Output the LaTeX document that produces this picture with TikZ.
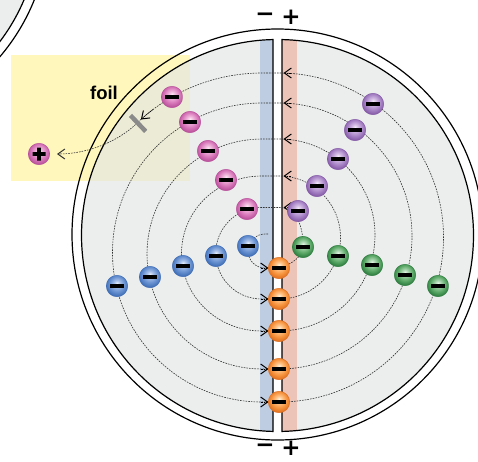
\documentclass[tikz,border=0pt]{standalone}
\usepackage{tikz}
\usepackage{fontspec}
\setmainfont{Liberation Sans}
\newfontfamily\signfont{DejaVu Sans}
\usetikzlibrary{arrows.meta}

% surfaces
\definecolor{deegray}{RGB}{227,229,229}
\definecolor{foilyellow}{RGB}{255,247,187}
\definecolor{negplate}{RGB}{190,205,225}
\definecolor{posplate}{RGB}{236,196,184}
\definecolor{trackcol}{RGB}{50,50,50}
\definecolor{foilbar}{RGB}{138,138,138}

% particle colours: highlight, middle, body, rim
\definecolor{pinkhl}{HTML}{FDE8F4}\definecolor{pinkmd}{HTML}{F0B8DC}
\definecolor{pinkbd}{HTML}{D877BA}\definecolor{pinkrm}{HTML}{B8509A}
\definecolor{bluehl}{HTML}{E6EEFA}\definecolor{bluemd}{HTML}{A8C0E8}
\definecolor{bluebd}{HTML}{6690D0}\definecolor{bluerm}{HTML}{3F6DB5}
\definecolor{orghl}{HTML}{FFF2E0}\definecolor{orgmd}{HTML}{FFC890}
\definecolor{orgbd}{HTML}{F7953F}\definecolor{orgrm}{HTML}{E07020}
\definecolor{grnhl}{HTML}{E4F2E4}\definecolor{grnmd}{HTML}{A8D4AE}
\definecolor{grnbd}{HTML}{5AA866}\definecolor{grnrm}{HTML}{2F7D40}
\definecolor{purhl}{HTML}{F3EBF8}\definecolor{purmd}{HTML}{D3BCE4}
\definecolor{purbd}{HTML}{A884C6}\definecolor{purrm}{HTML}{8459A6}

\newcommand{\makeballshade}[5]{%
  \pgfdeclareradialshading{#1}{\pgfpoint{0bp}{7bp}}{%
    color(0bp)=(#2); color(7bp)=(#3); color(18bp)=(#4);
    color(27bp)=(#5); color(50bp)=(#5)}}
\makeballshade{pinkshade}{pinkhl}{pinkmd}{pinkbd}{pinkrm}
\makeballshade{blueshade}{bluehl}{bluemd}{bluebd}{bluerm}
\makeballshade{orgshade}{orghl}{orgmd}{orgbd}{orgrm}
\makeballshade{grnshade}{grnhl}{grnmd}{grnbd}{grnrm}
\makeballshade{purshade}{purhl}{purmd}{purbd}{purrm}

\begin{document}
\begin{tikzpicture}[x=1pt, y=-1pt,
  rim/.style={draw=black, line width=1.2pt},
  deefill/.style={fill=deegray, fill opacity=0.65},
  track/.style={draw=trackcol, line width=0.6pt, dash pattern=on 1.6pt off 1.1pt},
  barb/.tip={Straight Barb[length=7pt,width=10pt,line width=1pt]},
  tipmark/.style={draw=black, line width=0.6pt, dash pattern=on 1.6pt off 1.1pt, -barb},
  sign/.style={font=\signfont\bfseries\fontsize{23}{24}\selectfont, inner sep=0pt},
  particle/.style={circle, minimum size=21.5pt, inner sep=0pt, line width=0.45pt},
  negmark/.style={path picture={\fill[black]
      ([shift={(-7pt,-2pt)}]path picture bounding box.center) rectangle
      ([shift={(7pt,2pt)}]path picture bounding box.center);}},
  posmark/.style={path picture={\fill[black]
      ([shift={(-6.5pt,-1.8pt)}]path picture bounding box.center) rectangle
      ([shift={(6.5pt,1.8pt)}]path picture bounding box.center)
      ([shift={(-1.8pt,-6.5pt)}]path picture bounding box.center) rectangle
      ([shift={(1.8pt,6.5pt)}]path picture bounding box.center);}},
  pinkball/.style={particle, shading=pinkshade, draw=pinkrm},
  blueball/.style={particle, shading=blueshade, draw=bluerm},
  orgball/.style={particle, shading=orgshade, draw=orgrm},
  grnball/.style={particle, shading=grnshade, draw=grnrm},
  purball/.style={particle, shading=purshade, draw=purrm},
]
\useasboundingbox (0,0) rectangle (478,461);
\fill[white] (0,0) rectangle (478,461);

% foil region
\fill[foilyellow] (11,55) rectangle (190,181);

% neighbouring chamber, top left
\path[deefill] (-156.5,-76.6) circle[radius=196];
\draw[rim] (-156.5,-76.6) circle[radius=196];
\draw[rim] (-156.5,-76.6) circle[radius=205.5];

% the two dees
\path[deefill] (273,39.55) arc[start angle=268.684, end angle=91.316, radius=196] -- cycle;
\path[deefill] (282,39.55) arc[start angle=-88.684, end angle=88.684, radius=196] -- cycle;
\begin{scope}
  \clip (273,39.55) arc[start angle=268.684, end angle=91.316, radius=196] -- cycle;
  \fill[negplate] (260,30) rectangle (274,445);
\end{scope}
\begin{scope}
  \clip (282,39.55) arc[start angle=-88.684, end angle=88.684, radius=196] -- cycle;
  \fill[posplate] (281,30) rectangle (297,445);
\end{scope}
\draw[rim] (273,39.55) arc[start angle=268.684, end angle=91.316, radius=196] -- cycle;
\draw[rim] (282,39.55) arc[start angle=-88.684, end angle=88.684, radius=196] -- cycle;
\draw[rim] (277.5,234.5) circle[radius=205.5];

% particle positions
\coordinate (o1) at (279,268); \coordinate (o2) at (279,299);
\coordinate (o3) at (279,331); \coordinate (o4) at (279,369);
\coordinate (o5) at (279,402);
\coordinate (ion) at (39,154);

% spiral track
\draw[track, -barb]
  (268,234) -- (265,234)
  arc[start angle=270, end angle=90, radius=17] -- (o1)
  .. controls (292,264) and (303,257) .. (303,245)
  .. controls (303,225) and (296,208) .. (279,207.5) -- (261.5,207.5)
  arc[start angle=270, end angle=90, radius=45.75] -- (o2)
  arc[start angle=90, end angle=-90, radius=61.5] -- (261.5,176)
  arc[start angle=270, end angle=90, x radius=80, y radius=77.5] -- (o3)
  arc[start angle=90, end angle=-90, radius=96] -- (262,139)
  arc[start angle=270, end angle=90, radius=115] -- (o4)
  arc[start angle=90, end angle=-90, radius=133] -- (262,103)
  arc[start angle=270, end angle=90, radius=149.5] -- (o5)
  arc[start angle=90, end angle=-90, radius=164.5] -- (262,73)
  arc[start angle=270, end angle=226, radius=181]
  .. controls (118.3,141.2) and (88,154) .. (57,154);

% direction marks on the track
\foreach \yy in {207.5,176,139,103,73}
  \draw[tipmark] (291,\yy) -- (283.5,\yy);
\foreach \yy in {268,299,331,369,402}
  \draw[tipmark] (261,\yy) -- (268.5,\yy);
\draw[tipmark] (262,254) ++(233:181) arc[start angle=233, end angle=228, radius=181];

% stripping foil
\draw[foilbar, line width=4.5pt] (130.5,115.4) -- (145.7,131.4);
\node[font=\fontsize{18.5}{20}\selectfont\bfseries, anchor=base, inner sep=0pt]
  (foillabel) at (104,99) {foil};

% particles
\node[pinkball, negmark] (p1) at (172,97) {};
\node[pinkball, negmark] (p2) at (190,122) {};
\node[pinkball, negmark] (p3) at (208,151) {};
\node[pinkball, negmark] (p4) at (226,180) {};
\node[pinkball, negmark] (p5) at (247,209) {};
\node[pinkball, posmark] (plus) at (ion) {};

\node[blueball, negmark] (b1) at (248,246) {};
\node[blueball, negmark] (b2) at (216,256) {};
\node[blueball, negmark] (b3) at (183,266) {};
\node[blueball, negmark] (b4) at (150,277) {};
\node[blueball, negmark] (b5) at (117,286) {};

\node[grnball, negmark] (g1) at (303,247) {};
\node[grnball, negmark] (g2) at (338,256) {};
\node[grnball, negmark] (g3) at (372,265) {};
\node[grnball, negmark] (g4) at (405,275) {};
\node[grnball, negmark] (g5) at (438,286) {};

\node[purball, negmark] (u1) at (298,211) {};
\node[purball, negmark] (u2) at (317,186) {};
\node[purball, negmark] (u3) at (338,159) {};
\node[purball, negmark] (u4) at (355,130) {};
\node[purball, negmark] (u5) at (373,104) {};

\node[orgball, negmark] (e1) at (o1) {};
\node[orgball, negmark] (e2) at (o2) {};
\node[orgball, negmark] (e3) at (o3) {};
\node[orgball, negmark] (e4) at (o4) {};
\node[orgball, negmark] (e5) at (o5) {};

% polarity of the dees
\node[sign] (topneg) at (265,17) {−};
\node[sign] (toppos) at (291,17) {+};
\node[sign] (botneg) at (265,448) {−};
\node[sign] (botpos) at (291,448) {+};
\end{tikzpicture}
\end{document}
